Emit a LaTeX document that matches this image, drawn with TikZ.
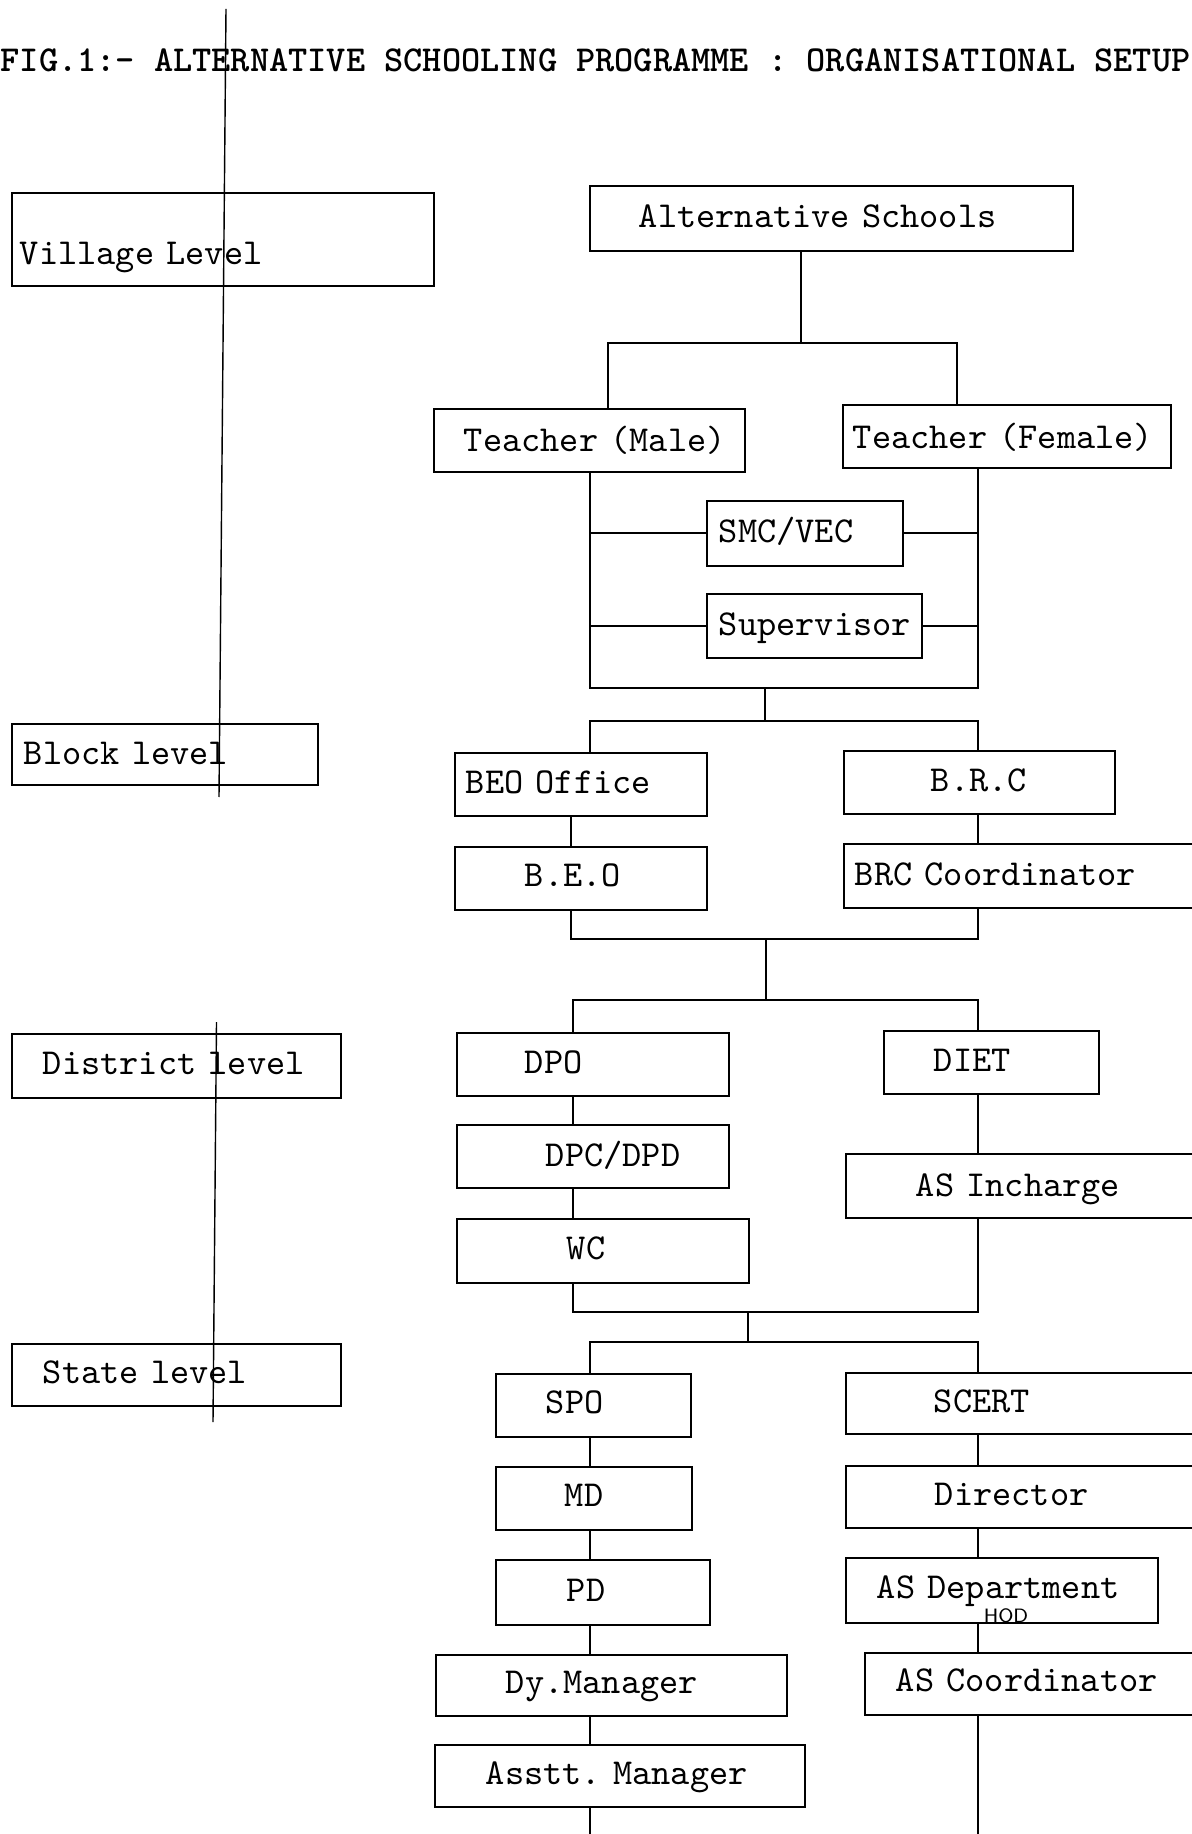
\documentclass[tikz,border=0pt]{standalone}
\usepackage{fontspec}
\newfontfamily\titlefont{lmmonolt10-bold.otf}

\begin{document}
\frenchspacing
\begin{tikzpicture}[
    unit/.style={draw, line width=0.55pt, anchor=north west, inner xsep=0pt, inner ysep=0pt,
        align=left, font=\ttfamily\fontsize{10.4}{12.5}\selectfont},
    textpad/.style={execute at begin node={\hspace*{#1}}},
    link/.style={line width=0.55pt}]
    \useasboundingbox (0,0) rectangle (11.91,-18.34);

    % Title
    \node[anchor=base west, inner sep=0pt, font=\titlefont\fontsize{10.4}{12.5}\selectfont] (title) at (0,-0.72)
        {FIG.1:- ALTERNATIVE SCHOOLING PROGRAMME : ORGANISATIONAL SETUP};

    % Levels
    \node[unit, text width=4.22cm, textpad=0.08cm, text height=0.72cm, text depth=0.21cm] (village) at (0.11,-1.92) {Village Level};
    \node[unit, text width=3.06cm, textpad=0.12cm, text height=0.41cm, text depth=0.20cm] (blocklvl) at (0.11,-7.23) {Block level};
    \node[unit, text width=3.29cm, textpad=0.31cm, text height=0.41cm, text depth=0.23cm] (distlvl) at (0.11,-10.33) {District level};
    \node[unit, text width=3.29cm, textpad=0.31cm, text height=0.40cm, text depth=0.22cm] (statelvl) at (0.11,-13.43) {State level};

    % Village level
    \node[unit, text width=4.83cm, textpad=0.49cm, text height=0.42cm, text depth=0.23cm] (alt) at (5.89,-1.85) {Alternative Schools};
    \node[unit, text width=3.11cm, textpad=0.30cm, text height=0.43cm, text depth=0.20cm] (tmale) at (4.33,-4.08) {Teacher (Male)};
    \node[unit, text width=3.28cm, textpad=0.10cm, text height=0.44cm, text depth=0.19cm] (tfemale) at (8.42,-4.04) {Teacher (Female)};
    \node[unit, text width=1.96cm, textpad=0.12cm, text height=0.42cm, text depth=0.23cm] (smc) at (7.06,-5.00) {SMC/VEC};
    \node[unit, text width=2.15cm, textpad=0.12cm, text height=0.42cm, text depth=0.22cm] (sup) at (7.06,-5.93) {Supervisor};

    % Block level
    \node[unit, text width=2.52cm, textpad=0.11cm, text height=0.41cm, text depth=0.22cm] (beooff) at (4.54,-7.52) {BEO Office};
    \node[unit, text width=2.71cm, textpad=0.87cm, text height=0.41cm, text depth=0.22cm] (brc) at (8.43,-7.50) {B.R.C};
    \node[unit, text width=2.52cm, textpad=0.70cm, text height=0.40cm, text depth=0.23cm] (beo) at (4.54,-8.46) {B.E.O};
    \node[unit, text width=3.87cm, textpad=0.11cm, text height=0.42cm, text depth=0.22cm] (brccoord) at (8.43,-8.43) {BRC Coordinator};

    % District level
    \node[unit, text width=2.72cm, textpad=0.68cm, text height=0.41cm, text depth=0.22cm] (dpo) at (4.56,-10.32) {DPO};
    \node[unit, text width=2.15cm, textpad=0.50cm, text height=0.41cm, text depth=0.22cm] (diet) at (8.83,-10.30) {DIET};
    \node[unit, text width=2.72cm, textpad=0.89cm, text height=0.42cm, text depth=0.21cm] (dpc) at (4.56,-11.24) {DPC/DPD};
    \node[unit, text width=3.95cm, textpad=0.70cm, text height=0.43cm, text depth=0.21cm] (asinch) at (8.45,-11.53) {AS Incharge};
    \node[unit, text width=2.92cm, textpad=1.10cm, text height=0.41cm, text depth=0.23cm] (wc) at (4.56,-12.18) {WC};

    % State level
    \node[unit, text width=1.95cm, textpad=0.50cm, text height=0.40cm, text depth=0.23cm] (spo) at (4.95,-13.73) {SPO};
    \node[unit, text width=3.95cm, textpad=0.88cm, text height=0.40cm, text depth=0.21cm] (scert) at (8.45,-13.72) {SCERT};
    \node[unit, text width=1.96cm, textpad=0.69cm, text height=0.40cm, text depth=0.23cm] (md) at (4.95,-14.66) {MD};
    \node[unit, text width=3.95cm, textpad=0.89cm, text height=0.40cm, text depth=0.22cm] (director) at (8.45,-14.65) {Director};
    \node[unit, text width=2.14cm, textpad=0.71cm, text height=0.42cm, text depth=0.23cm] (pd) at (4.95,-15.59) {PD};
    \node[unit, text width=3.12cm, textpad=0.31cm, text height=0.41cm, text depth=0.24cm] (asdept) at (8.45,-15.57) {AS Department};
    \node[font=\sffamily\fontsize{5.5}{6}\selectfont, inner sep=0pt] (hod) at (10.06,-16.16) {HOD};
    \node[unit, text width=3.51cm, textpad=0.70cm, text height=0.39cm, text depth=0.22cm] (dymgr) at (4.35,-16.54) {Dy.Manager};
    \node[unit, text width=3.76cm, textpad=0.31cm, text height=0.39cm, text depth=0.23cm] (ascoord) at (8.64,-16.52) {AS Coordinator};
    \node[unit, text width=3.70cm, textpad=0.51cm, text height=0.40cm, text depth=0.22cm] (asstt) at (4.34,-17.44) {Asstt.\ Manager};

    % Columns and junctions
    \coordinate (xv1) at (6.08,0);
    \coordinate (xv2) at (9.57,0);
    \coordinate (xl) at (5.90,0);
    \coordinate (xr) at (9.78,0);
    \coordinate (xb) at (5.71,0);
    \coordinate (xd) at (5.73,0);
    \coordinate (j1) at (8.01,-3.43);
    \coordinate (j2) at (7.65,-6.88);
    \coordinate (j3) at (7.65,-7.21);
    \coordinate (j4) at (7.66,-9.39);
    \coordinate (j5) at (7.66,-10.00);
    \coordinate (j6) at (7.48,-13.12);
    \coordinate (j7) at (7.48,-13.42);
    \coordinate (endl) at (5.90,-18.45);
    \coordinate (endr) at (9.78,-18.45);

    % Village links
    \draw[link] (alt.south -| j1) -- (j1);
    \draw[link] (tmale.north -| xv1) |- (j1) -| (tfemale.north -| xv2);
    \draw[link] (tmale.south -| xl) |- (j2) -| (tfemale.south -| xr);
    \draw[link] (smc.west) -- (smc.west -| xl);
    \draw[link] (smc.east) -- (smc.east -| xr);
    \draw[link] (sup.west) -- (sup.west -| xl);
    \draw[link] (sup.east) -- (sup.east -| xr);
    \draw[link] (j2) -- (j3);
    \draw[link] (beooff.north -| xl) |- (j3) -| (brc.north -| xr);

    % Block links
    \draw[link] (beooff.south -| xb) -- (beo.north -| xb);
    \draw[link] (brc.south -| xr) -- (brccoord.north -| xr);
    \draw[link] (beo.south -| xb) |- (j4) -| (brccoord.south -| xr);
    \draw[link] (j4) -- (j5);
    \draw[link] (dpo.north -| xd) |- (j5) -| (diet.north -| xr);

    % District links
    \draw[link] (dpo.south -| xd) -- (dpc.north -| xd);
    \draw[link] (dpc.south -| xd) -- (wc.north -| xd);
    \draw[link] (diet.south -| xr) -- (asinch.north -| xr);
    \draw[link] (wc.south -| xd) |- (j6) -| (asinch.south -| xr);
    \draw[link] (j6) -- (j7);
    \draw[link] (spo.north -| xl) |- (j7) -| (scert.north -| xr);

    % State links
    \draw[link] (spo.south -| xl) -- (md.north -| xl);
    \draw[link] (md.south -| xl) -- (pd.north -| xl);
    \draw[link] (pd.south -| xl) -- (dymgr.north -| xl);
    \draw[link] (dymgr.south -| xl) -- (asstt.north -| xl);
    \draw[link] (asstt.south -| xl) -- (endl);
    \draw[link] (scert.south -| xr) -- (director.north -| xr);
    \draw[link] (director.south -| xr) -- (asdept.north -| xr);
    \draw[link] (asdept.south -| xr) -- (ascoord.north -| xr);
    \draw[link] (ascoord.south -| xr) -- (endr);

    % Marks of the scan
    \draw[line width=0.4pt] (2.26,-0.09) -- (2.19,-7.97);
    \draw[line width=0.4pt] (2.165,-10.22) -- (2.13,-14.22);
\end{tikzpicture}
\end{document}
